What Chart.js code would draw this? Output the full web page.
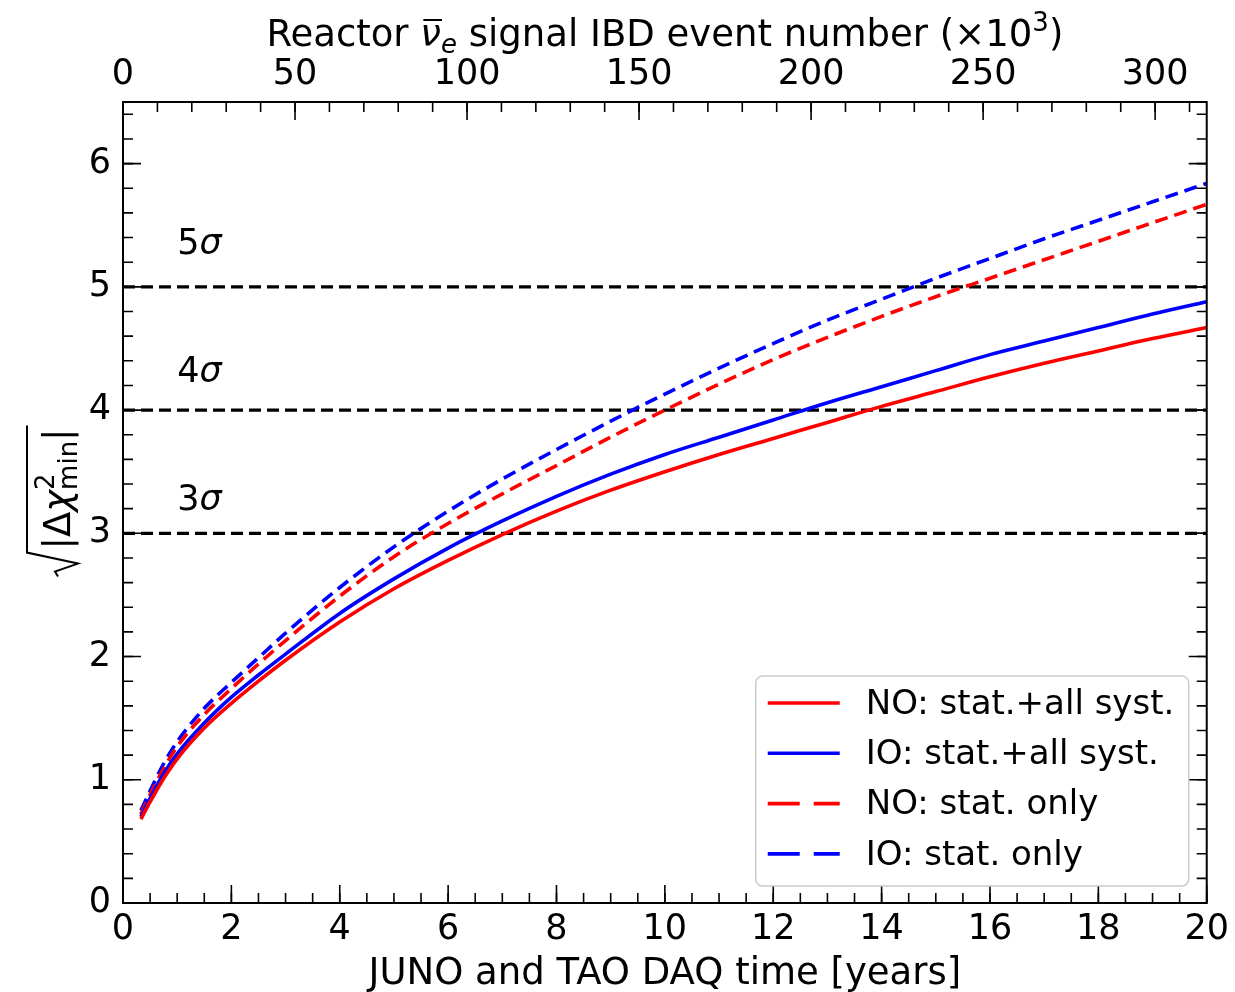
<!DOCTYPE html>
<html>
<head>
<meta charset="utf-8">
<script src="https://cdn.jsdelivr.net/npm/chart.js@4.4.1/dist/chart.umd.min.js"></script>
<style>
  html, body { margin: 0; padding: 0; background: #fff; }
  canvas { display: block; }
</style>
</head>
<body>
<canvas id="myChart" width="1235" height="992"></canvas>
<script>
// DAQ time in years
var years = [0.33, 0.5, 0.75, 1, 1.5, 2, 2.5, 3, 4, 5, 6, 7, 8, 9, 10, 11, 12, 13, 14, 15, 16, 17, 18, 19, 20];
// sqrt(|dchi2_min|)
var noSyst = [0.68, 0.82, 1.01, 1.17, 1.42, 1.62, 1.80, 1.97, 2.28, 2.55, 2.78, 2.99, 3.18, 3.35, 3.50, 3.64, 3.77, 3.90, 4.03, 4.15, 4.27, 4.38, 4.48, 4.58, 4.67];
var ioSyst = [0.70, 0.85, 1.05, 1.21, 1.46, 1.67, 1.85, 2.02, 2.35, 2.63, 2.88, 3.10, 3.30, 3.48, 3.64, 3.78, 3.92, 4.06, 4.19, 4.32, 4.45, 4.56, 4.67, 4.78, 4.88];
var noStat = [0.72, 0.88, 1.09, 1.27, 1.53, 1.74, 1.94, 2.13, 2.49, 2.81, 3.08, 3.32, 3.55, 3.78, 4.00, 4.21, 4.41, 4.59, 4.76, 4.92, 5.07, 5.22, 5.37, 5.52, 5.67];
var ioStat = [0.75, 0.91, 1.13, 1.31, 1.58, 1.79, 1.99, 2.19, 2.56, 2.89, 3.18, 3.44, 3.68, 3.91, 4.13, 4.34, 4.54, 4.73, 4.90, 5.07, 5.23, 5.39, 5.54, 5.69, 5.84];

var seriesLabels = ['NO: stat.+all syst.', 'IO: stat.+all syst.', 'NO: stat. only', 'IO: stat. only'];

// significance reference lines
var sigmaLevels = [3, 4, 5];
var sigmaLabelY = [3.26, 4.30, 5.34];
var sigmaLabelX = 1.0;

// years axis range and IBD events (x10^3) reached at 20 years
var maxYears = 20;
var eventsAtMax = 315;

var ctx = document.getElementById("myChart");
Chart.defaults.font.family = "'DejaVu Sans'";
Chart.defaults.color = '#000';

function pts(ys) {
  return years.map(function (t, i) { return { x: t, y: ys[i] }; });
}

var datasets = [
  { label: seriesLabels[0], data: pts(noSyst), borderColor: 'rgb(255,0,0)', borderDash: [] },
  { label: seriesLabels[1], data: pts(ioSyst), borderColor: 'rgb(0,0,255)', borderDash: [] },
  { label: seriesLabels[2], data: pts(noStat), borderColor: 'rgb(255,0,0)', borderDash: [13, 7] },
  { label: seriesLabels[3], data: pts(ioStat), borderColor: 'rgb(0,0,255)', borderDash: [13, 7] }
].map(function (d) {
  d.borderWidth = 3.6;
  d.pointRadius = 0;
  d.cubicInterpolationMode = 'monotone';
  d.fill = false;
  return d;
});

sigmaLevels.forEach(function (s) {
  datasets.push({
    label: s + 'sigma',
    data: [{ x: 0, y: s }, { x: maxYears, y: s }],
    borderColor: '#000',
    borderWidth: 3.2,
    borderDash: [12, 6],
    pointRadius: 0,
    fill: false
  });
});

function drawRuns(c, runs, x, y, align) {
  var total = 0;
  runs.forEach(function (r) { c.font = r.font; r.w = c.measureText(r.text).width; total += r.w; });
  var cx = align === 'center' ? x - total / 2 : x;
  runs.forEach(function (r) {
    c.font = r.font;
    c.fillText(r.text, cx, y + (r.dy || 0));
    r.x = cx;
    cx += r.w;
  });
  return runs;
}

function minorVals(min, max, step) {
  var out = [];
  for (var v = min; v <= max + 1e-9; v += step) out.push(v);
  return out;
}

var decorPlugin = {
  id: 'decor',
  afterDraw: function (chart) {
    var c = chart.ctx;
    var a = chart.chartArea;
    var xs = chart.scales.x, x2 = chart.scales.x2, ys = chart.scales.y;
    c.save();
    c.strokeStyle = '#000';
    c.fillStyle = '#000';

    // frame
    c.lineWidth = 2;
    c.strokeRect(a.left, a.top, a.right - a.left, a.bottom - a.top);

    // inward ticks
    c.lineWidth = 1.6;
    function tickX(scale, vals, len, atTop) {
      vals.forEach(function (v) {
        var p = scale.getPixelForValue(v);
        if (p < a.left - 1 || p > a.right + 1) return;
        c.beginPath();
        if (atTop) { c.moveTo(p, a.top); c.lineTo(p, a.top + len); }
        else { c.moveTo(p, a.bottom); c.lineTo(p, a.bottom - len); }
        c.stroke();
      });
    }
    function tickY(vals, len) {
      vals.forEach(function (v) {
        var p = ys.getPixelForValue(v);
        if (p < a.top - 1 || p > a.bottom + 1) return;
        c.beginPath();
        c.moveTo(a.left, p); c.lineTo(a.left + len, p);
        c.moveTo(a.right, p); c.lineTo(a.right - len, p);
        c.stroke();
      });
    }
    tickX(xs, minorVals(0, maxYears, 0.5), 10, false);
    tickX(xs, xs.ticks.map(function (t) { return t.value; }), 18, false);
    tickX(x2, minorVals(0, eventsAtMax, 10), 10, true);
    tickX(x2, x2.ticks.map(function (t) { return t.value; }), 18, true);
    tickY(minorVals(0, 6.5, 0.2), 10);
    tickY(ys.ticks.map(function (t) { return t.value; }), 18);

    // sigma labels
    c.textBaseline = 'middle';
    c.textAlign = 'left';
    sigmaLevels.forEach(function (s, i) {
      drawRuns(c, [
        { text: String(s), font: "35px 'DejaVu Sans'" },
        { text: 'σ', font: "italic 35px 'DejaVu Sans'" }
      ], xs.getPixelForValue(sigmaLabelX), ys.getPixelForValue(sigmaLabelY[i]), 'left');
    });

    // legend
    var lx = a.right - 18 - 433, ly = a.bottom - 17 - 210, lw = 433, lh = 210;
    c.beginPath();
    c.roundRect(lx, ly, lw, lh, 7);
    c.fillStyle = 'rgba(255,255,255,0.8)';
    c.fill();
    c.strokeStyle = '#cccccc';
    c.lineWidth = 1.5;
    c.stroke();
    c.font = "34px 'DejaVu Sans'";
    c.textBaseline = 'middle';
    chart.data.datasets.slice(0, 4).forEach(function (d, i) {
      var y = ly + 27 + i * 50.3;
      c.strokeStyle = d.borderColor;
      c.lineWidth = 3.6;
      c.setLineDash(d.borderDash.length ? [32, 14] : []);
      c.beginPath();
      c.moveTo(lx + 12, y);
      c.lineTo(lx + 84, y);
      c.stroke();
      c.setLineDash([]);
      c.fillStyle = '#000';
      c.fillText(d.label, lx + 110, y + 2);
    });

    // top axis title
    c.fillStyle = '#000';
    c.strokeStyle = '#000';
    c.textBaseline = 'alphabetic';
    var cx = (a.left + a.right) / 2;
    var runs = drawRuns(c, [
      { text: 'Reactor ', font: "37px 'DejaVu Sans'" },
      { text: 'ν', font: "italic 37px 'DejaVu Sans'" },
      { text: 'e', font: "italic 26px 'DejaVu Sans'", dy: 7 },
      { text: ' signal IBD event number (×10', font: "37px 'DejaVu Sans'" },
      { text: '3', font: "26px 'DejaVu Sans'", dy: -15 },
      { text: ')', font: "37px 'DejaVu Sans'" }
    ], cx, 46, 'center');
    c.lineWidth = 2;
    c.beginPath();
    c.moveTo(runs[1].x + 3, 20);
    c.lineTo(runs[1].x + runs[1].w + 1, 20);
    c.stroke();

    // bottom axis title
    c.font = "37px 'DejaVu Sans'";
    c.textAlign = 'center';
    c.fillText('JUNO and TAO DAQ time [years]', cx, 984);
    c.textAlign = 'left';

    // y axis title: sqrt(|Δχ²_min|)
    var cy = (a.top + a.bottom) / 2;
    c.translate(0, cy);
    c.rotate(-Math.PI / 2);
    var base = 70;
    c.font = "37px 'DejaVu Sans'"; var w1 = c.measureText('|Δ').width;
    c.font = "italic 37px 'DejaVu Sans'"; var w2 = c.measureText('χ').width;
    c.font = "26px 'DejaVu Sans'"; var wSup = c.measureText('2').width; var wSub = c.measureText('min').width;
    c.font = "37px 'DejaVu Sans'"; var w3 = c.measureText('|').width;
    var radW = 24;
    var total = radW + 3 + w1 + w2 + Math.max(wSup, wSub) + w3;
    var u = -total / 2;
    c.lineWidth = 2;
    c.beginPath();
    c.moveTo(u, base - 12);
    c.lineTo(u + 5, base - 15);
    c.lineTo(u + 13, base + 8);
    c.lineTo(u + radW, base - 43);
    c.lineTo(u + total + 3, base - 43);
    c.stroke();
    u += radW + 3;
    c.font = "37px 'DejaVu Sans'"; c.fillText('|Δ', u, base); u += w1;
    c.font = "italic 37px 'DejaVu Sans'"; c.fillText('χ', u, base); u += w2;
    c.font = "26px 'DejaVu Sans'";
    c.fillText('2', u, base - 16);
    c.fillText('min', u, base + 7);
    u += Math.max(wSup, wSub);
    c.font = "37px 'DejaVu Sans'"; c.fillText('|', u, base);

    c.restore();
  }
};

var config = {
  type: 'line',
  data: { datasets: datasets },
  options: {
    responsive: false,
    animation: false,
    layout: { padding: { left: 0, right: 28, top: 0, bottom: 0 } },
    plugins: { legend: { display: false }, tooltip: { enabled: false } },
    scales: {
      x: {
        type: 'linear', position: 'bottom', min: 0, max: maxYears,
        ticks: { stepSize: 2, includeBounds: false, maxRotation: 0, autoSkip: false, padding: 6, font: { size: 35 }, color: '#000' },
        grid: { display: false, drawTicks: false },
        border: { display: false },
        afterFit: function (s) { s.height = 89; }
      },
      x2: {
        type: 'linear', axis: 'x', position: 'top', min: 0, max: eventsAtMax,
        ticks: { stepSize: 50, includeBounds: false, maxRotation: 0, autoSkip: false, padding: 6, font: { size: 35 }, color: '#000' },
        grid: { display: false, drawTicks: false },
        border: { display: false },
        afterFit: function (s) { s.height = 102; }
      },
      y: {
        type: 'linear', position: 'left', min: 0, max: 6.5,
        ticks: { stepSize: 1, includeBounds: false, padding: 12, font: { size: 35 }, color: '#000' },
        grid: { display: false, drawTicks: false },
        border: { display: false },
        afterFit: function (s) { s.width = 123; }
      }
    }
  },
  plugins: [decorPlugin]
};

const myChart = new Chart(ctx, config);
</script>
</body>
</html>
